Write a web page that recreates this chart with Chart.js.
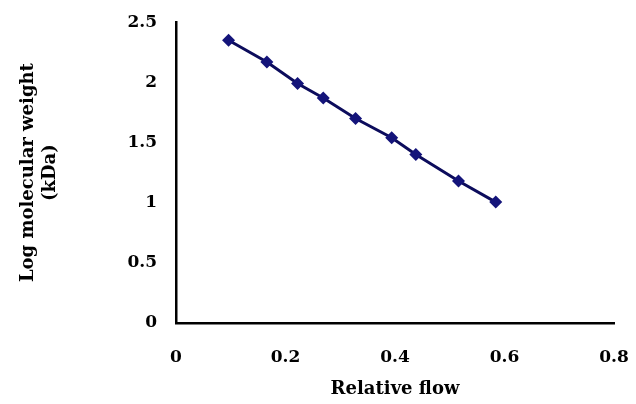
<!DOCTYPE html>
<html>
<head>
<meta charset="utf-8">
<script src="https://cdn.jsdelivr.net/npm/chart.js@4"></script>
<style>
  html, body { margin: 0; padding: 0; background: #fff; }
  #wrap { width: 636px; height: 404px; }
</style>
</head>
<body>
<div id="wrap"><canvas id="grafico"></canvas></div>
<script>
// dados
const relativeFlow = [0.096, 0.166, 0.222, 0.269, 0.328, 0.394, 0.438, 0.516, 0.584]
const logMW = [2.35, 2.17, 1.99, 1.87, 1.70, 1.54, 1.40, 1.18, 1.005]
const xTicks = [0, 0.2, 0.4, 0.6, 0.8]
const yTicks = [0, 0.5, 1, 1.5, 2, 2.5]

const fonte = { family: "'DejaVu Serif', 'Liberation Serif', serif", size: 17, weight: "bold" }
const fonteTitulo = { family: "'DejaVu Serif', 'Liberation Serif', serif", size: 18, weight: "bold" }

const pontos = relativeFlow.map((x, i) => ({ x: x, y: logMW[i] }))

new Chart(document.getElementById("grafico"), {
  type: "scatter",
  data: {
    datasets: [
      {
        data: pontos,
        showLine: true,
        borderColor: "#0c0c5c",
        borderWidth: 3,
        backgroundColor: "#14147a",
        pointStyle: "rectRot",
        pointRadius: 6.5,
        pointBorderWidth: 0,
      },
    ],
  },
  options: {
    responsive: true,
    maintainAspectRatio: false,
    animation: false,
    layout: { padding: { top: 21, right: 22, left: 14, bottom: 0 } },
    plugins: { legend: { display: false }, tooltip: { enabled: false } },
    scales: {
      x: {
        type: "linear",
        min: 0,
        max: 0.8,
        afterBuildTicks: (s) => { s.ticks = xTicks.map((v) => ({ value: v })) },
        grid: { display: false, drawOnChartArea: false, tickLength: 6, tickColor: "#000", tickWidth: 2.5 },
        border: { color: "#000", width: 2.5 },
        ticks: { color: "#000", font: fonte, padding: 18, maxRotation: 0, callback: (v) => String(v) },
        title: { display: true, text: "Relative flow", color: "#000", font: fonteTitulo, padding: { top: 6 } },
        afterFit: (s) => { s.height = 81; s.paddingRight = 0; s.paddingLeft = 0 },
      },
      y: {
        min: 0,
        max: 2.5,
        afterBuildTicks: (s) => { s.ticks = yTicks.map((v) => ({ value: v })) },
        grid: { display: false, drawOnChartArea: false, tickLength: 7, tickColor: "#000", tickWidth: 2.5 },
        border: { color: "#000", width: 2.5 },
        ticks: { color: "#000", font: fonte, padding: 12, callback: (v) => String(v) },
        title: { display: true, text: ["Log molecular weight", "(kDa)"], color: "#000", font: fonteTitulo, padding: { bottom: 14 } },
        afterFit: (s) => { s.width = 162 },
      },
    },
  },
})
</script>
</body>
</html>
